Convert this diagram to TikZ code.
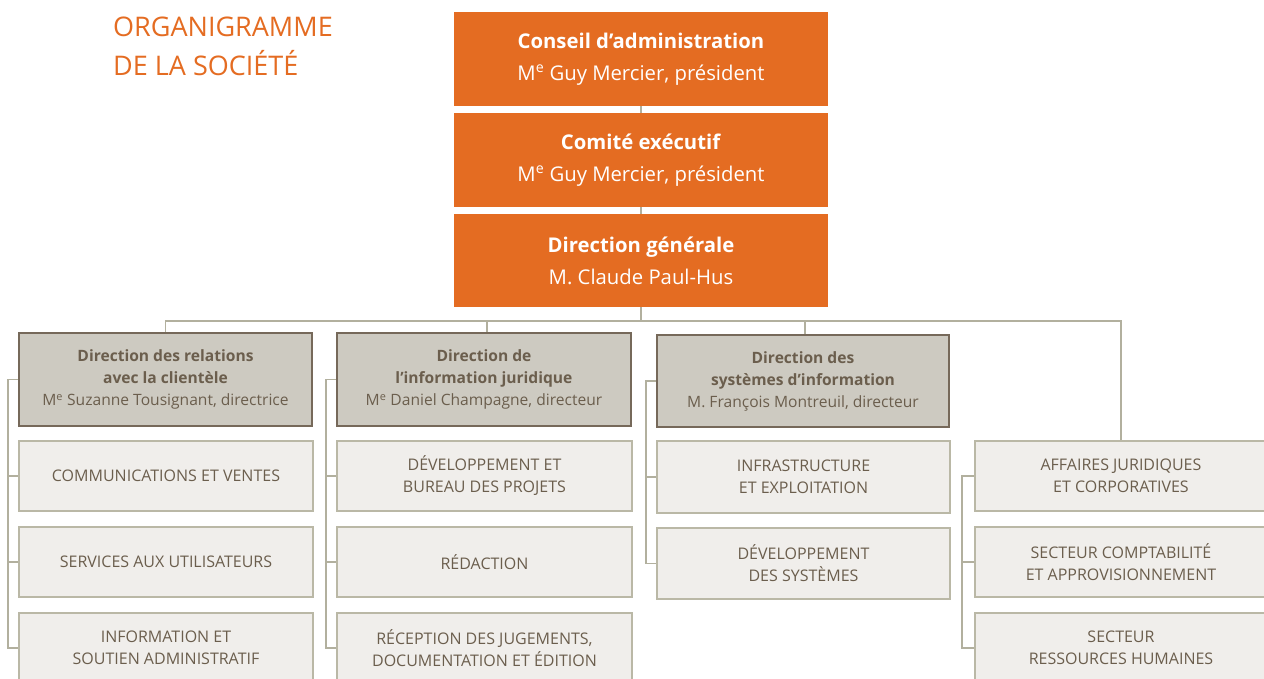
\documentclass[tikz,border=0pt]{standalone}
\usepackage{fontspec}
\setmainfont{Open Sans}
\usetikzlibrary{backgrounds}
\definecolor{orgc}{HTML}{E46C22}
\definecolor{dfill}{HTML}{CDCAC1}
\definecolor{dborder}{HTML}{76695A}
\definecolor{dtext}{HTML}{6B5E4D}
\definecolor{sfill}{HTML}{F0EEEB}
\definecolor{sborder}{HTML}{BAB8A6}
\definecolor{linec}{HTML}{B2B09E}
\begin{document}
\begin{tikzpicture}[x=1pt,y=-1pt,
  obox/.style={fill=orgc, draw=none, minimum width=374pt, minimum height=94pt, inner sep=0pt, text=white, align=center, font=\fontsize{20.3}{32}\selectfont},
  dbox/.style={fill=dfill, draw=dborder, line width=1.5pt, minimum width=293pt, minimum height=93pt, inner sep=0pt, text=dtext, align=center, font=\fontsize{15.6}{22}\selectfont},
  sbox/.style={fill=sfill, draw=sborder, line width=1.5pt, minimum width=294pt, minimum height=70pt, inner sep=0pt, text=dtext, align=center, font=\fontsize{16}{22}\selectfont},
  conn/.style={draw=linec, line width=1.8pt}]
\useasboundingbox (0,0) rectangle (1264,679);
\clip (0,0) rectangle (1264,679);
\node[anchor=west, text=orgc, font=\fontsize{27}{39}\selectfont, align=left, inner sep=0pt] (title) at (113,46.5) {ORGANIGRAMME\\DE LA SOCIÉTÉ};
\node[obox] (o1) at (641,59) {\textbf{Conseil d’administration}\\M\textsuperscript{e} Guy Mercier, président};
\node[obox] (o2) at (641,160) {\textbf{Comité exécutif}\\M\textsuperscript{e} Guy Mercier, président};
\node[obox, minimum height=93pt] (o3) at (641,260.5) {\textbf{Direction générale}\\M. Claude Paul-Hus};
\node[dbox] (dA) at (165.5,379.5) {\textbf{Direction des relations}\\\textbf{avec la clientèle}\\M\textsuperscript{e} Suzanne Tousignant, directrice};
\node[dbox, minimum width=294pt] (dB) at (484,379.5) {\textbf{Direction de}\\\textbf{l’information juridique}\\M\textsuperscript{e} Daniel Champagne, directeur};
\node[dbox, minimum width=292pt, minimum height=92pt] (dC) at (803,381) {\textbf{Direction des}\\\textbf{systèmes d’information}\\M. François Montreuil, directeur};
\node[sbox] (a1) at (166,476) {COMMUNICATIONS ET VENTES};
\node[sbox] (a2) at (166,562) {SERVICES AUX UTILISATEURS};
\node[sbox] (a3) at (166,648) {INFORMATION ET\\SOUTIEN ADMINISTRATIF};
\node[sbox, minimum width=295pt] (b1) at (484.5,476) {DÉVELOPPEMENT ET\\BUREAU DES PROJETS};
\node[sbox, minimum width=295pt] (b2) at (484.5,562) {RÉDACTION};
\node[sbox, minimum width=295pt] (b3) at (484.5,648) {RÉCEPTION DES JUGEMENTS,\\DOCUMENTATION ET ÉDITION};
\node[sbox, minimum width=293pt, minimum height=72pt] (c1) at (803.5,477) {INFRASTRUCTURE\\ET EXPLOITATION};
\node[sbox, minimum width=293pt, minimum height=71pt] (c2) at (803.5,563.5) {DÉVELOPPEMENT\\DES SYSTÈMES};
\node[sbox, minimum width=292pt] (e1) at (1121,476) {AFFAIRES JURIDIQUES\\ET CORPORATIVES};
\node[sbox, minimum width=292pt] (e2) at (1121,562) {SECTEUR COMPTABILITÉ\\ET APPROVISIONNEMENT};
\node[sbox, minimum width=292pt] (e3) at (1121,648) {SECTEUR\\RESSOURCES HUMAINES};
\coordinate (bus) at (641,321);
\begin{pgfonlayer}{background}
\draw[conn] (o1.south) -- (o2.north);
\draw[conn] (o2.south) -- (o3.north);
\draw[conn] (o3.south) -- (bus);
\draw[conn] (dA.north) |- (bus) -| (e1.north);
\draw[conn] ([xshift=3pt]dB.north) -- ([xshift=3pt]dB.north |- bus);
\draw[conn] ([xshift=2pt]dC.north) -- ([xshift=2pt]dC.north |- bus);
\draw[conn] (dA.west) -- ++(-10,0) |- (a3.west);
\draw[conn] (a1.west) -- ++(-10,0);
\draw[conn] (a2.west) -- ++(-10,0);
\draw[conn] (dB.west) -- ++(-10,0) |- (b3.west);
\draw[conn] (b1.west) -- ++(-10,0);
\draw[conn] (b2.west) -- ++(-10,0);
\draw[conn] (dC.west) -- ++(-10,0) |- (c2.west);
\draw[conn] (c1.west) -- ++(-10,0);
\draw[conn] (e1.west) -- ++(-12,0) |- (e3.west);
\draw[conn] (e2.west) -- ++(-12,0);
\end{pgfonlayer}
\end{tikzpicture}
\end{document}
